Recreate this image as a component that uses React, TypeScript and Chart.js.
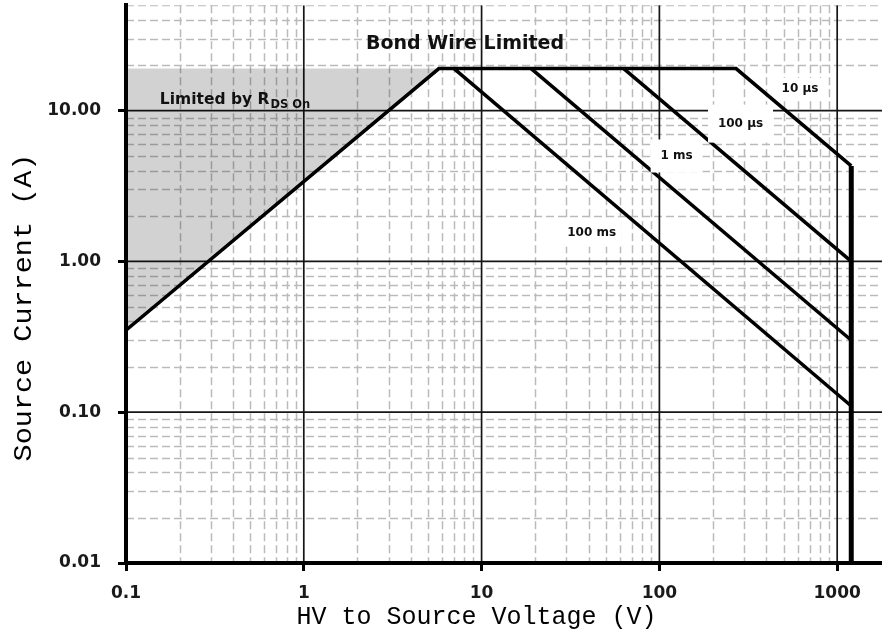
import React, { useEffect, useRef } from 'react';
import { Chart, registerables } from 'chart.js';

Chart.register(...registerables);

// ---------- axis ranges & ticks ----------
const X_MIN = 0.1;
const X_MAX = 2000;
const Y_MIN = 0.01;
const Y_MAX = 50;
const xTickValues = [0.1, 1, 10, 100, 1000];
const xTickLabels = ['0.1', '1', '10', '100', '1000'];
const yTickValues = [0.01, 0.1, 1, 10];
const yTickLabels = ['0.01', '0.10', '1.00', '10.00'];
const minorMultipliers = [2, 3, 4, 5, 6, 7, 8, 9];

// ---------- curves (V, A) ----------
const rdsOnV = [0.1, 5.75];
const rdsOnI = [0.35, 19];
const envelopeV = [0.1, 5.75, 270, 1200];
const envelopeI = [0.35, 19, 19, 4.3];
const voltLimitV = [1200, 1200];
const voltLimitI = [4.3, 0.01];
const pulse100usV = [63, 1200];
const pulse100usI = [19, 1.0];
const pulse1msV = [19, 1200];
const pulse1msI = [19, 0.3];
const pulse100msV = [7, 1200];
const pulse100msI = [19, 0.11];

// ---------- annotations ----------
const pulseLabels = ['10 µs', '100 µs', '1 ms', '100 ms'];
const pulseLabelV = [618, 286, 125, 41.6];
const pulseLabelI = [13.9, 8.2, 5.0, 1.55];
const bondWireText = 'Bond Wire Limited';
const bondWireV = 8.07;
const bondWireI = 25.5;
const rdsText = 'Limited by R';
const rdsSubText = 'DS On';
const rdsTextV = 0.155;
const rdsTextI = 11.1;
const xTitle = 'HV to Source Voltage (V)';
const yTitle = 'Source Current (A)';

const pts = (vs: number[], is: number[]) => vs.map((v, i) => ({ x: v, y: is[i] }));

const PULSE_BOX: [number, number][] = [
  [46, 22],
  [65, 38],
  [52, 33],
  [60, 28],
];

const gridPlugin = {
  id: 'logGrid',
  beforeDraw(chart: any) {
    const { ctx, chartArea: a, scales } = chart;
    const x = scales.x;
    const y = scales.y;
    ctx.save();
    ctx.beginPath();
    ctx.rect(a.left, a.top, a.right - a.left, a.bottom - a.top);
    ctx.clip();
    // minor dashed grid
    ctx.strokeStyle = '#bababa';
    ctx.lineWidth = 1.5;
    ctx.setLineDash([8, 4]);
    xTickValues.forEach((d) => {
      minorMultipliers.forEach((m) => {
        const v = d * m;
        if (v >= X_MAX) return;
        const px = Math.round(x.getPixelForValue(v)) + 0.5;
        ctx.beginPath();
        ctx.moveTo(px, a.top);
        ctx.lineTo(px, a.bottom);
        ctx.stroke();
      });
    });
    yTickValues.forEach((d) => {
      minorMultipliers.forEach((m) => {
        const v = d * m;
        if (v > Y_MAX) return;
        const py = Math.round(y.getPixelForValue(v)) + 0.5;
        ctx.beginPath();
        ctx.moveTo(a.left, py);
        ctx.lineTo(a.right, py);
        ctx.stroke();
      });
    });
    // major solid grid
    ctx.setLineDash([]);
    ctx.strokeStyle = '#151515';
    ctx.lineWidth = 1.7;
    xTickValues.slice(1).forEach((v) => {
      const px = x.getPixelForValue(v);
      ctx.beginPath();
      ctx.moveTo(px, a.top);
      ctx.lineTo(px, a.bottom);
      ctx.stroke();
    });
    yTickValues.slice(1).forEach((v) => {
      const py = y.getPixelForValue(v);
      ctx.beginPath();
      ctx.moveTo(a.left, py);
      ctx.lineTo(a.right, py);
      ctx.stroke();
    });
    ctx.restore();
  },
};

const labelsPlugin = {
  id: 'soaLabels',
  afterDatasetsDraw(chart: any) {
    const { ctx, scales } = chart;
    const x = scales.x;
    const y = scales.y;
    ctx.save();
    pulseLabels.forEach((txt, i) => {
      const px = x.getPixelForValue(pulseLabelV[i]);
      const py = y.getPixelForValue(pulseLabelI[i]);
      const [bw, bh] = PULSE_BOX[i];
      ctx.fillStyle = '#ffffff';
      ctx.fillRect(px - bw / 2, py - bh / 2, bw, bh);
      ctx.fillStyle = '#111111';
      ctx.font = 'bold 12px "DejaVu Sans"';
      ctx.textAlign = 'center';
      ctx.textBaseline = 'middle';
      ctx.fillText(txt, px, py);
    });
    // Bond wire
    ctx.fillStyle = '#111111';
    ctx.font = 'bold 19px "DejaVu Sans"';
    ctx.textAlign = 'center';
    ctx.textBaseline = 'alphabetic';
    ctx.fillText(bondWireText, x.getPixelForValue(bondWireV), y.getPixelForValue(bondWireI));
    // Rds on
    const lx = x.getPixelForValue(rdsTextV);
    const ly = y.getPixelForValue(rdsTextI);
    ctx.textAlign = 'left';
    ctx.font = 'bold 15.5px "DejaVu Sans"';
    ctx.fillText(rdsText, lx, ly);
    const w = ctx.measureText(rdsText).width;
    ctx.font = 'bold 11.5px "DejaVu Sans"';
    ctx.fillText(rdsSubText, lx + w + 1, ly + 4.5);
    ctx.restore();
  },
  afterDraw(chart: any) {
    const { ctx } = chart;
    ctx.save();
    ctx.fillStyle = '#000000';
    ctx.font = '25px "Liberation Mono"';
    ctx.textAlign = 'center';
    ctx.textBaseline = 'alphabetic';
    ctx.fillText(xTitle, 476.5, 624);
    ctx.translate(31, 307.5);
    ctx.rotate(-Math.PI / 2);
    ctx.scale(1.14, 1);
    ctx.fillText(yTitle, 0, 0);
    ctx.restore();
  },
};

const lineDs = (data: any[], width: number, order = 0) => ({
  data,
  borderColor: '#000000',
  borderWidth: width,
  backgroundColor: 'transparent',
  pointRadius: 0,
  fill: false,
  tension: 0,
  borderJoinStyle: 'miter' as const,
  borderCapStyle: 'butt' as const,
  order,
});

export default function App() {
  const canvasRef = useRef<HTMLCanvasElement | null>(null);

  useEffect(() => {
    if (!canvasRef.current) return;
    const tickFont = { family: '"DejaVu Sans"', size: 17, weight: 'bold' as const };
    const chart = new Chart(canvasRef.current, {
      type: 'line',
      data: {
        datasets: [
          {
            data: pts(rdsOnV, rdsOnI),
            borderWidth: 0,
            borderColor: 'transparent',
            backgroundColor: 'rgba(0,0,0,0.175)',
            pointRadius: 0,
            fill: { value: rdsOnI[rdsOnI.length - 1] },
            order: 10,
          } as any,
          lineDs(pts(envelopeV, envelopeI), 3.5),
          lineDs(pts(voltLimitV, voltLimitI), 5),
          lineDs(pts(pulse100usV, pulse100usI), 3.5),
          lineDs(pts(pulse1msV, pulse1msI), 3.5),
          lineDs(pts(pulse100msV, pulse100msI), 3.5),
        ],
      },
      options: {
        responsive: false,
        animation: false,
        layout: { padding: { left: 0, top: 5.2, right: 9.3, bottom: 0 } },
        plugins: {
          legend: { display: false },
          tooltip: { enabled: false },
        },
        scales: {
          x: {
            type: 'logarithmic',
            min: X_MIN,
            max: X_MAX,
            afterBuildTicks: (s: any) => {
              s.ticks = xTickValues.map((v) => ({ value: v }));
            },
            afterFit: (s: any) => {
              s.height = 80;
              s.paddingLeft = 0;
              s.paddingRight = 0;
              s.paddingTop = 0;
              s.paddingBottom = 0;
            },
            ticks: {
              autoSkip: false,
              maxRotation: 0,
              minRotation: 0,
              padding: 12,
              color: '#1a1a1a',
              font: tickFont,
              callback: (_v: any, i: number) => xTickLabels[i],
            },
            grid: {
              display: true,
              drawOnChartArea: false,
              drawTicks: true,
              tickLength: 8,
              tickWidth: 3,
              tickColor: '#000',
              color: '#000',
            },
            border: { display: true, color: '#000', width: 4 },
          },
          y: {
            type: 'logarithmic',
            min: Y_MIN,
            max: Y_MAX,
            afterBuildTicks: (s: any) => {
              s.ticks = yTickValues.map((v) => ({ value: v }));
            },
            afterFit: (s: any) => {
              s.width = 126;
              s.paddingLeft = 0;
              s.paddingRight = 0;
              s.paddingTop = 0;
              s.paddingBottom = 0;
            },
            ticks: {
              autoSkip: false,
              padding: 17,
              color: '#1a1a1a',
              font: tickFont,
              callback: (_v: any, i: number) => yTickLabels[i],
            },
            grid: {
              display: true,
              drawOnChartArea: false,
              drawTicks: true,
              tickLength: 8,
              tickWidth: 3,
              tickColor: '#000',
              color: '#000',
            },
            border: { display: true, color: '#000', width: 4 },
          },
        },
      } as any,
      plugins: [gridPlugin, labelsPlugin],
    });
    return () => chart.destroy();
  }, []);

  return (
    <div
      style={{
        position: 'fixed',
        left: 0,
        top: 0,
        width: 882,
        height: 643,
        overflow: 'hidden',
        background: '#fff',
      }}
    >
      <canvas ref={canvasRef} width={900} height={643} style={{ display: 'block' }} />
    </div>
  );
}
